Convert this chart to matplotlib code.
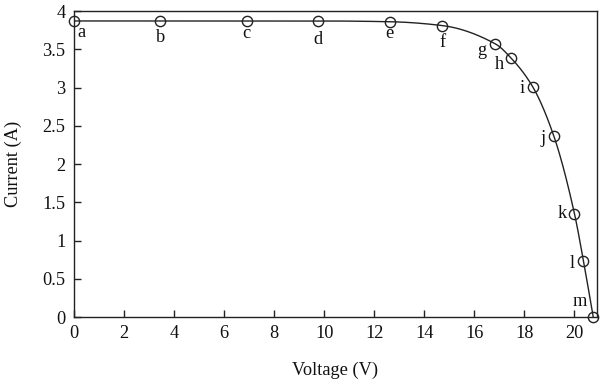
import numpy as np
import matplotlib
matplotlib.use("Agg")
import matplotlib.pyplot as plt

plt.rcParams['font.family'] = ['Liberation Serif', 'DejaVu Serif']

labels = ['a', 'b', 'c', 'd', 'e', 'f', 'g', 'h', 'i', 'j', 'k', 'l', 'm']
voltage = [0.0, 3.45, 6.9, 9.75, 12.62, 14.71, 16.84, 17.48, 18.33, 19.17, 20.0, 20.36, 20.75]
current = [3.87, 3.87, 3.87, 3.87, 3.86, 3.81, 3.57, 3.38, 3.01, 2.37, 1.35, 0.73, 0.0]

x_ticks = [0, 2, 4, 6, 8, 10, 12, 14, 16, 18, 20]
y_ticks = [0, 0.5, 1, 1.5, 2, 2.5, 3, 3.5, 4]

# label offsets (pixels) relative to each marker
label_offsets = [(7, -12), (0, -17), (0, -13), (0, -19), (0, -12), (0, -17),
                 (-14, -7), (-12, -6), (-10, -2), (-11, -3), (-12, 0), (-11, -2), (-13, 16)]


def pchip(x, y, xn):
    x = np.asarray(x, float)
    y = np.asarray(y, float)
    n = len(x)
    h = np.diff(x)
    delta = np.diff(y) / h
    d = np.zeros(n)
    for k in range(1, n - 1):
        if delta[k - 1] * delta[k] > 0:
            w1 = 2 * h[k] + h[k - 1]
            w2 = h[k] + 2 * h[k - 1]
            d[k] = (w1 + w2) / (w1 / delta[k - 1] + w2 / delta[k])
        else:
            d[k] = 0.0
    d[0] = delta[0]
    d[-1] = delta[-1]
    idx = np.clip(np.searchsorted(x, xn) - 1, 0, n - 2)
    t = (xn - x[idx]) / h[idx]
    h00 = 2 * t**3 - 3 * t**2 + 1
    h10 = t**3 - 2 * t**2 + t
    h01 = -2 * t**3 + 3 * t**2
    h11 = t**3 - t**2
    return h00 * y[idx] + h10 * h[idx] * d[idx] + h01 * y[idx + 1] + h11 * h[idx] * d[idx + 1]


fig = plt.figure(figsize=(6.0, 3.85), dpi=100)
ax = fig.add_axes([0.1233, 0.1766, 0.8717, 0.7948])

col = '#222222'
fs = 13.2
xs = np.linspace(voltage[0], voltage[-1], 800)
ax.plot(xs, pchip(voltage, current, xs), color=col, lw=1.0, zorder=2)
ax.plot(voltage, current, linestyle='none', marker='o', markersize=7.4,
        markerfacecolor='none', markeredgecolor=col, markeredgewidth=1.0,
        clip_on=False, zorder=3)

for lab, v, c, off in zip(labels, voltage, current, label_offsets):
    ax.annotate(lab, (v, c), xytext=off, textcoords='offset pixels',
                ha='center', va='center', fontsize=fs, color='#111111')

ax.set_xlim(0, 20.9)
ax.set_ylim(0, 4)
ax.set_xticks(x_ticks)
ax.set_yticks(y_ticks)
ax.set_xticklabels([f"{t:g}" for t in x_ticks])
ax.set_yticklabels([f"{t:g}" for t in y_ticks])
ax.tick_params(direction='in', length=5, width=1, colors=col, labelsize=fs,
               labelcolor='#111111', pad=6)
for s in ax.spines.values():
    s.set_color(col)
    s.set_linewidth(1.0)

ax.set_xlabel('Voltage (V)', fontsize=fs, color='#111111', labelpad=14)
ax.set_ylabel('Current (A)', fontsize=fs, color='#111111', labelpad=15)

fig.savefig('out.png', dpi=100)
